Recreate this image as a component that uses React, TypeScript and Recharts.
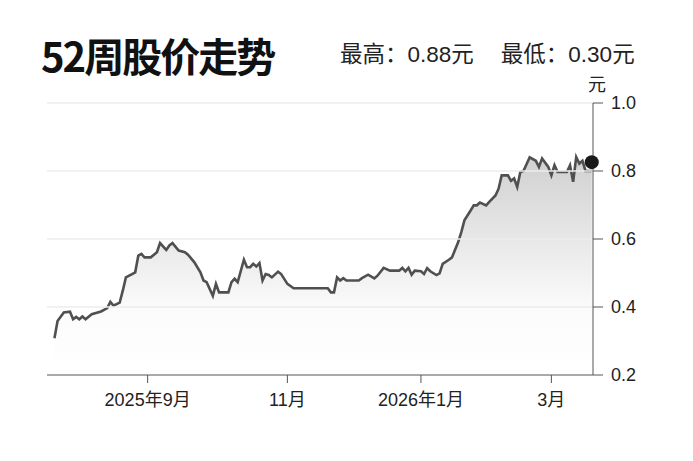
import React from 'react';
import { ComposedChart, Area, XAxis, YAxis, ReferenceLine, ReferenceDot } from 'recharts';

const dates = [
  '2025-07-21', '2025-07-22', '2025-07-24', '2025-07-28', '2025-07-29', '2025-07-30', '2025-07-31', '2025-08-01', '2025-08-04', '2025-08-06',
  '2025-08-11', '2025-08-13', '2025-08-14', '2025-08-15', '2025-08-19', '2025-08-20', '2025-08-21', '2025-08-25', '2025-08-26', '2025-08-27',
  '2025-08-28', '2025-08-29', '2025-09-02', '2025-09-04', '2025-09-05', '2025-09-09', '2025-09-10', '2025-09-11', '2025-09-15', '2025-09-17',
  '2025-09-18', '2025-09-22', '2025-09-24', '2025-09-25', '2025-09-26', '2025-09-30', '2025-10-01', '2025-10-02', '2025-10-07', '2025-10-08',
  '2025-10-09', '2025-10-10', '2025-10-14', '2025-10-15', '2025-10-16', '2025-10-17', '2025-10-20', '2025-10-21', '2025-10-22', '2025-10-23',
  '2025-10-24', '2025-10-27', '2025-10-29', '2025-10-30', '2025-11-03', '2025-11-05', '2025-11-20', '2025-11-21', '2025-11-24', '2025-11-25',
  '2025-11-26', '2025-11-27', '2025-11-28', '2025-12-04', '2025-12-05', '2025-12-09', '2025-12-11', '2025-12-12', '2025-12-16', '2025-12-18',
  '2025-12-23', '2025-12-24', '2025-12-25', '2025-12-26', '2025-12-29', '2025-12-30', '2026-01-01', '2026-01-02', '2026-01-05', '2026-01-06',
  '2026-01-08', '2026-01-09', '2026-01-12', '2026-01-14', '2026-01-15', '2026-01-19', '2026-01-20', '2026-01-21', '2026-01-23', '2026-01-26',
  '2026-01-27', '2026-01-28', '2026-01-30', '2026-02-02', '2026-02-04', '2026-02-05', '2026-02-06', '2026-02-10', '2026-02-11', '2026-02-12',
  '2026-02-13', '2026-02-16', '2026-02-17', '2026-02-18', '2026-02-19', '2026-02-23', '2026-02-24', '2026-02-25', '2026-02-27', '2026-03-02',
  '2026-03-03', '2026-03-04', '2026-03-09', '2026-03-10', '2026-03-11', '2026-03-12', '2026-03-13', '2026-03-16', '2026-03-17', '2026-03-19',
];

const prices = [
  0.308, 0.359, 0.384, 0.386, 0.364, 0.371, 0.364, 0.372, 0.364, 0.379,
  0.387, 0.397, 0.415, 0.404, 0.413, 0.448, 0.487, 0.497, 0.502, 0.551,
  0.556, 0.546, 0.546, 0.561, 0.588, 0.568, 0.581, 0.588, 0.566, 0.561,
  0.554, 0.532, 0.502, 0.478, 0.473, 0.433, 0.468, 0.443, 0.443, 0.473,
  0.483, 0.473, 0.539, 0.517, 0.517, 0.527, 0.519, 0.529, 0.478, 0.497,
  0.494, 0.487, 0.504, 0.497, 0.468, 0.455, 0.455, 0.443, 0.443, 0.487,
  0.478, 0.485, 0.478, 0.478, 0.485, 0.495, 0.484, 0.492, 0.515, 0.507,
  0.507, 0.515, 0.505, 0.515, 0.495, 0.507, 0.505, 0.497, 0.514, 0.505,
  0.494, 0.499, 0.527, 0.539, 0.546, 0.591, 0.620, 0.655, 0.684, 0.699,
  0.699, 0.707, 0.699, 0.709, 0.728, 0.748, 0.787, 0.787, 0.771, 0.778,
  0.753, 0.797, 0.800, 0.820, 0.840, 0.830, 0.812, 0.837, 0.812, 0.787,
  0.817, 0.797, 0.797, 0.817, 0.768, 0.841, 0.822, 0.830, 0.800, 0.800,
];

const tickDates = ['2025-09-01', '2025-11-01', '2026-01-01', '2026-03-01'];
const tickLabels = ['2025年9月', '11月', '2026年1月', '3月'];
const yTicks = [0.2, 0.4, 0.6, 0.8, 1.0];

const LAST_PRICE = 0.826;
const HIGH = '0.88';
const LOW = '0.30';

const FONT = '"Liberation Sans", Arial, "Noto Sans CJK SC", sans-serif';
const DAY = 86400000;
const START = Date.parse(dates[0]);

// x position counts weekdays only (trading-day spacing)
const tradingIndex = (iso: string) => {
  const days = Math.round((Date.parse(iso) - START) / DAY);
  const weeks = Math.floor(days / 7);
  return weeks * 5 + Math.min(days % 7, 5);
};

const data = dates.map((d, i) => ({ t: tradingIndex(d), price: prices[i] }));
const ticks = tickDates.map(tradingIndex);
const lastT = data[data.length - 1].t;

const fmtX = (v: number) => {
  const i = ticks.indexOf(v);
  return i >= 0 ? tickLabels[i] : '';
};

export default function App() {
  return (
    <div style={{ position: 'absolute', left: 0, top: 0, width: 693, height: 461, background: '#fff', fontFamily: FONT }}>
      <div style={{ position: 'absolute', left: 41, top: 30, fontSize: 40, lineHeight: '50px', fontWeight: 700, color: '#111', fontFamily: '"Noto Sans CJK SC", sans-serif', letterSpacing: -2 }}>
        52周股价走势
      </div>
      <div style={{ position: 'absolute', left: 340, top: 42, fontSize: 22.5, lineHeight: '26px', color: '#222', whiteSpace: 'nowrap' }}>
        <span>最高：{HIGH}元</span>
        <span style={{ marginLeft: 27 }}>最低：{LOW}元</span>
      </div>
      <div style={{ position: 'absolute', left: 588, top: 74, fontSize: 18, lineHeight: '22px', color: '#222' }}>元</div>
      <div style={{ position: 'absolute', left: 0, top: 0 }}>
        <ComposedChart width={693} height={461} data={data} margin={{ top: 103, right: 40, bottom: 56, left: 47 }}>
          <defs>
            <linearGradient id="fade" x1="0" y1="0" x2="0" y2="1">
              <stop offset="0%" stopColor="#d0d0d0" />
              <stop offset="40%" stopColor="#e9e9e9" />
              <stop offset="70%" stopColor="#fbfbfb" />
              <stop offset="100%" stopColor="#ffffff" />
            </linearGradient>
          </defs>
          <XAxis
            type="number"
            dataKey="t"
            domain={[-2.4, lastT + 0.4]}
            ticks={ticks}
            tickFormatter={fmtX}
            allowDataOverflow
            height={30}
            stroke="#555"
            tickSize={8}
            tickMargin={10}
            tick={{ fontSize: 18, fill: '#222', fontFamily: FONT }}
          />
          <YAxis
            orientation="right"
            domain={[0.2, 1.0]}
            ticks={yTicks}
            tickFormatter={(v: number) => v.toFixed(1)}
            width={60}
            stroke="#555"
            tickSize={10}
            tickMargin={8}
            tick={{ fontSize: 18, fill: '#222', fontFamily: FONT }}
          />
          <Area
            type="linear"
            dataKey="price"
            stroke="none"
            fill="url(#fade)"
            fillOpacity={1}
            dot={false}
            activeDot={false}
            isAnimationActive={false}
          />
          {yTicks.slice(1).map((v) => (
            <ReferenceLine key={v} y={v} stroke="#ececec" strokeWidth={1.5} />
          ))}
          <Area
            type="linear"
            dataKey="price"
            stroke="#505050"
            strokeWidth={2.6}
            fill="none"
            dot={false}
            activeDot={false}
            isAnimationActive={false}
          />
          <ReferenceDot x={lastT} y={LAST_PRICE} r={7} fill="#1a1a1a" stroke="none" />
        </ComposedChart>
      </div>
    </div>
  );
}
